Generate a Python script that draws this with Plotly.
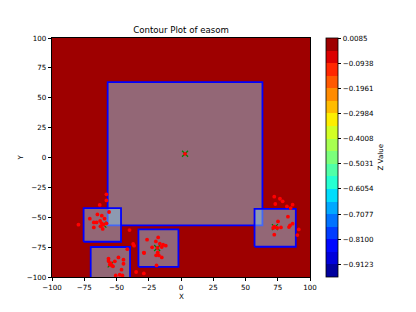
import numpy as np
import plotly.graph_objects as go

# ---------------- data ----------------
# Easom test function sampled on a 100 x 100 grid (the surface named in the title)
grid_x = np.linspace(-100, 100, 100)
grid_y = np.linspace(-100, 100, 100)
GX, GY = np.meshgrid(grid_x, grid_y)
Z = -np.cos(GX) * np.cos(GY) * np.exp(-((GX - np.pi) ** 2 + (GY - np.pi) ** 2))

n_levels = 20
levels = np.linspace(Z.min(), Z.max(), n_levels)

cbar_tickvals = [0.0085, -0.0938, -0.1961, -0.2984, -0.4008,
                 -0.5031, -0.6054, -0.7077, -0.8100, -0.9123]
cbar_ticktext = ["0.0085", "\u22120.0938", "\u22120.1961", "\u22120.2984", "\u22120.4008",
                 "\u22120.5031", "\u22120.6054", "\u22120.7077", "\u22120.8100", "\u22120.9123"]

# search rectangles
rect_x0 = [-56.86, -75.5, -70.0, -33.0, 57.0]
rect_x1 = [63.14, -46.5, -39.5, -2.0, 89.0]
rect_y0 = [-56.86, -70.5, -105.0, -91.5, -74.7]
rect_y1 = [63.14, -42.4, -74.9, -60.2, -43.0]

# sampled points
pts_x = [-57.8, -57.8, -63.0, -55.8, -64.8, -61.4, -59.3, -70.7, -65.5, -67.6, -62.7, -61.4,
         -57.8, -62.4, -67.6, -60.7, -79.5, -60.2,
         -39.9, -37.1, -36.4, -28.8, -34.8, -28.8,
         -41.6, -48.5, -44.6, -44.6, -51.3, -56.2, -56.2, -55.2, -52.7, -46.1, -50.6, -47.5,
         -45.4, -54.5, -53.5,
         -17.7, -26.3, -19.5, -16.4, -13.9, -11.8, -22.4, -14.9, -18.2, -18.0, -19.3, -17.2,
         -28.6, -14.9, -19.0,
         72.3, 76.7, 78.8, 73.1, 86.5, 82.1, 85.0, 82.9, 75.2, 86.5, 84.5, 83.7, 77.5, 74.6,
         72.3, 71.5, 91.3, 90.2, 72.3,
         3.1]
pts_y = [-30.8, -35.9, -39.7, -45.6, -47.6, -48.7, -51.2, -51.2, -54.3, -54.3, -53.1, -55.1,
         -55.1, -57.6, -58.5, -59.8, -56.2, -56.2,
         -60.7, -72.4, -73.8, -79.6, -95.8, -97.0,
         -76.7, -83.6, -85.5, -88.9, -86.9, -84.7, -86.6, -89.7, -91.1, -93.9, -98.7, -98.1,
         -98.7, -88.5, -90.5,
         -66.9, -68.8, -70.2, -72.1, -73.0, -73.8, -75.2, -74.9, -75.7, -79.4, -81.9, -81.9,
         -79.9, -83.6, -90.3,
         -32.8, -34.5, -36.7, -38.9, -39.5, -40.9, -42.3, -49.5, -53.5, -55.4, -56.8, -58.2,
         -58.5, -59.0, -57.9, -59.0, -60.2, -64.9, -64.6,
         3.1]

best_x = [-60.2, -54.5, -18.5, 72.8, 3.14]
best_y = [-56.2, -89.5, -75.7, -58.3, 3.14]

x_ticks = [-100, -75, -50, -25, 0, 25, 50, 75, 100]
y_ticks = [-100, -75, -50, -25, 0, 25, 50, 75, 100]

# ---------------- styling helpers ----------------
def jet(v):
    r = np.interp(v, [0, 0.35, 0.66, 0.89, 1], [0, 0, 1, 1, 0.5])
    g = np.interp(v, [0, 0.125, 0.375, 0.64, 0.91, 1], [0, 0, 1, 1, 0, 0])
    b = np.interp(v, [0, 0.11, 0.34, 0.65, 1], [0.5, 1, 1, 0, 0])
    return "rgb(%d,%d,%d)" % (round(r * 255), round(g * 255), round(b * 255))

nb = n_levels - 1
colorscale = []
for i in range(nb):
    c = jet((i + 0.5) / nb)
    colorscale.append([i / nb, c])
    colorscale.append([(i + 1) / nb, c])

FONT = "DejaVu Sans"
TICK_SIZE = 7.1

fig = go.Figure()
fig.add_trace(go.Heatmap(
    x=grid_x, y=grid_y, z=Z,
    zmin=levels[0], zmax=levels[-1],
    colorscale=colorscale,
    colorbar=dict(
        tickvals=cbar_tickvals, ticktext=cbar_ticktext,
        ticks="outside", ticklen=3.5, tickwidth=0.8, tickcolor="black",
        thickness=12.3, len=1, lenmode="fraction",
        x=(326 - 52) / 258, xanchor="left", xpad=0, ypad=0,
        y=0.5, yanchor="middle",
        outlinecolor="black", outlinewidth=0.8,
        tickfont=dict(family=FONT, size=TICK_SIZE, color="black"),
    ),
    hoverinfo="skip",
))

for x0, x1, y0, y1 in zip(rect_x0, rect_x1, rect_y0, rect_y1):
    fig.add_trace(go.Scatter(
        x=[x0, x1, x1, x0, x0], y=[y0, y0, y1, y1, y0],
        mode="lines", fill="toself",
        fillcolor="rgba(135,206,235,0.5)",
        line=dict(color="blue", width=1.8),
        showlegend=False, hoverinfo="skip",
    ))

fig.add_trace(go.Scatter(
    x=best_x, y=best_y, mode="markers",
    marker=dict(symbol="x-thin", size=6, line=dict(color="green", width=1.2)),
    showlegend=False,
))
fig.add_trace(go.Scatter(
    x=pts_x, y=pts_y, mode="markers",
    marker=dict(color="red", size=3.8, line=dict(width=0)),
    showlegend=False,
))

axis_common = dict(
    showline=True, mirror=True, linecolor="black", linewidth=0.8,
    ticks="outside", ticklen=3.5, tickwidth=0.8, tickcolor="black",
    showgrid=False, zeroline=False,
    tickfont=dict(family=FONT, size=TICK_SIZE, color="black"),
)

fig.update_layout(
    width=416, height=312,
    margin=dict(l=52, r=106, t=38, b=35),
    paper_bgcolor="white", plot_bgcolor="white",
    xaxis=dict(range=[-100, 100], tickvals=x_ticks, **axis_common),
    yaxis=dict(range=[-100, 100], tickvals=y_ticks, **axis_common),
    title=dict(text="Contour Plot of easom", x=0.5, xref="paper",
               y=1 - 30 / 312, yref="container", yanchor="middle", xanchor="center",
               font=dict(family=FONT, size=8.6, color="black")),
    annotations=[
        dict(text="X", xref="paper", yref="paper", x=0.5, y=(277 - 296) / 239,
             showarrow=False, font=dict(family=FONT, size=TICK_SIZE, color="black"),
             xanchor="center", yanchor="middle"),
        dict(text="Y", xref="paper", yref="paper", x=(20 - 52) / 258, y=0.5,
             showarrow=False, textangle=-90, font=dict(family=FONT, size=TICK_SIZE, color="black"),
             xanchor="center", yanchor="middle"),
        dict(text="Z Value", xref="paper", yref="paper", x=(380 - 52) / 258, y=0.5,
             showarrow=False, textangle=-90, font=dict(family=FONT, size=TICK_SIZE, color="black"),
             xanchor="center", yanchor="middle"),
    ],
)

fig.write_html("out.html", config={"displayModeBar": False},
               post_script="document.body.style.margin='0';document.body.style.padding='0';")
